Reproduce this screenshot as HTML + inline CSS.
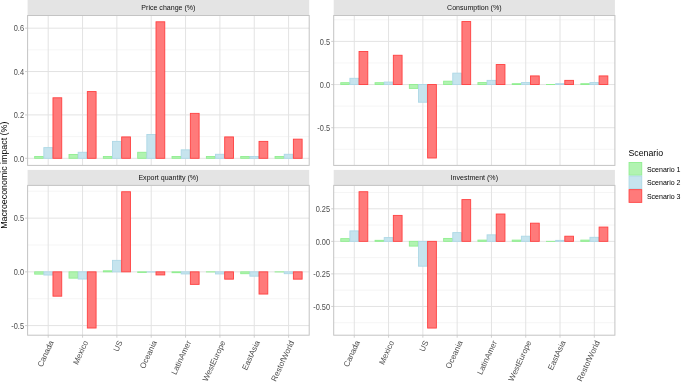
<!DOCTYPE html><html><head><meta charset="utf-8"><style>html,body{margin:0;padding:0;background:#fff;overflow:hidden}svg{display:block;will-change:transform}text{font-family:"Liberation Sans",sans-serif}</style></head><body>
<svg width="685" height="382" viewBox="0 0 685 382">
<rect width="685" height="382" fill="#fff"/>
<rect x="27.60" y="0.00" width="281.60" height="15.5" fill="#e4e4e4"/>
<text x="168.40" y="10.05" font-size="7.05" fill="#111" text-anchor="middle">Price change (%)</text>
<line x1="27.60" x2="309.20" y1="136.61" y2="136.61" stroke="#efefef" stroke-width="0.6"/>
<line x1="27.60" x2="309.20" y1="93.23" y2="93.23" stroke="#efefef" stroke-width="0.6"/>
<line x1="27.60" x2="309.20" y1="49.85" y2="49.85" stroke="#efefef" stroke-width="0.6"/>
<line x1="27.60" x2="309.20" y1="158.30" y2="158.30" stroke="#e3e3e3" stroke-width="1"/>
<line x1="27.60" x2="309.20" y1="114.92" y2="114.92" stroke="#e3e3e3" stroke-width="1"/>
<line x1="27.60" x2="309.20" y1="71.54" y2="71.54" stroke="#e3e3e3" stroke-width="1"/>
<line x1="27.60" x2="309.20" y1="28.16" y2="28.16" stroke="#e3e3e3" stroke-width="1"/>
<line x1="48.20" x2="48.20" y1="15.50" y2="165.40" stroke="#e3e3e3" stroke-width="1"/>
<line x1="82.55" x2="82.55" y1="15.50" y2="165.40" stroke="#e3e3e3" stroke-width="1"/>
<line x1="116.89" x2="116.89" y1="15.50" y2="165.40" stroke="#e3e3e3" stroke-width="1"/>
<line x1="151.23" x2="151.23" y1="15.50" y2="165.40" stroke="#e3e3e3" stroke-width="1"/>
<line x1="185.57" x2="185.57" y1="15.50" y2="165.40" stroke="#e3e3e3" stroke-width="1"/>
<line x1="219.91" x2="219.91" y1="15.50" y2="165.40" stroke="#e3e3e3" stroke-width="1"/>
<line x1="254.25" x2="254.25" y1="15.50" y2="165.40" stroke="#e3e3e3" stroke-width="1"/>
<line x1="288.60" x2="288.60" y1="15.50" y2="165.40" stroke="#e3e3e3" stroke-width="1"/>
<rect x="34.67" y="156.50" width="8.76" height="1.80" fill="#b1f3b1" stroke="#90ee90" stroke-width="0.9"/>
<rect x="43.83" y="147.61" width="8.76" height="10.69" fill="#c6e4ee" stroke="#add8e6" stroke-width="0.9"/>
<rect x="52.98" y="97.79" width="8.76" height="60.51" fill="#ff7a7a" stroke="#ff4040" stroke-width="0.9"/>
<rect x="69.01" y="154.50" width="8.76" height="3.80" fill="#b1f3b1" stroke="#90ee90" stroke-width="0.9"/>
<rect x="78.17" y="152.28" width="8.76" height="6.02" fill="#c6e4ee" stroke="#add8e6" stroke-width="0.9"/>
<rect x="87.33" y="91.57" width="8.76" height="66.73" fill="#ff7a7a" stroke="#ff4040" stroke-width="0.9"/>
<rect x="103.35" y="156.50" width="8.76" height="1.80" fill="#b1f3b1" stroke="#90ee90" stroke-width="0.9"/>
<rect x="112.51" y="141.38" width="8.76" height="16.92" fill="#c6e4ee" stroke="#add8e6" stroke-width="0.9"/>
<rect x="121.67" y="136.93" width="8.76" height="21.37" fill="#ff7a7a" stroke="#ff4040" stroke-width="0.9"/>
<rect x="137.69" y="152.28" width="8.76" height="6.02" fill="#b1f3b1" stroke="#90ee90" stroke-width="0.9"/>
<rect x="146.85" y="134.49" width="8.76" height="23.81" fill="#c6e4ee" stroke="#add8e6" stroke-width="0.9"/>
<rect x="156.01" y="21.80" width="8.76" height="136.50" fill="#ff7a7a" stroke="#ff4040" stroke-width="0.9"/>
<rect x="172.03" y="156.50" width="8.76" height="1.80" fill="#b1f3b1" stroke="#90ee90" stroke-width="0.9"/>
<rect x="181.19" y="149.83" width="8.76" height="8.47" fill="#c6e4ee" stroke="#add8e6" stroke-width="0.9"/>
<rect x="190.35" y="113.36" width="8.76" height="44.94" fill="#ff7a7a" stroke="#ff4040" stroke-width="0.9"/>
<rect x="206.38" y="156.50" width="8.76" height="1.80" fill="#b1f3b1" stroke="#90ee90" stroke-width="0.9"/>
<rect x="215.53" y="154.28" width="8.76" height="4.02" fill="#c6e4ee" stroke="#add8e6" stroke-width="0.9"/>
<rect x="224.69" y="136.93" width="8.76" height="21.37" fill="#ff7a7a" stroke="#ff4040" stroke-width="0.9"/>
<rect x="240.72" y="156.50" width="8.76" height="1.80" fill="#b1f3b1" stroke="#90ee90" stroke-width="0.9"/>
<rect x="249.87" y="156.50" width="8.76" height="1.80" fill="#c6e4ee" stroke="#add8e6" stroke-width="0.9"/>
<rect x="259.03" y="141.38" width="8.76" height="16.92" fill="#ff7a7a" stroke="#ff4040" stroke-width="0.9"/>
<rect x="275.06" y="156.50" width="8.76" height="1.80" fill="#b1f3b1" stroke="#90ee90" stroke-width="0.9"/>
<rect x="284.22" y="154.28" width="8.76" height="4.02" fill="#c6e4ee" stroke="#add8e6" stroke-width="0.9"/>
<rect x="293.37" y="139.16" width="8.76" height="19.14" fill="#ff7a7a" stroke="#ff4040" stroke-width="0.9"/>
<rect x="27.60" y="15.50" width="281.60" height="149.90" fill="none" stroke="#c4c4c4" stroke-width="1"/>
<line x1="25.10" x2="27.60" y1="158.30" y2="158.30" stroke="#c4c4c4" stroke-width="0.8"/>
<text transform="translate(24.00,161.50) scale(1,1.15)" font-size="7.4" fill="#4d4d4d" text-anchor="end">0.0</text>
<line x1="25.10" x2="27.60" y1="114.92" y2="114.92" stroke="#c4c4c4" stroke-width="0.8"/>
<text transform="translate(24.00,118.12) scale(1,1.15)" font-size="7.4" fill="#4d4d4d" text-anchor="end">0.2</text>
<line x1="25.10" x2="27.60" y1="71.54" y2="71.54" stroke="#c4c4c4" stroke-width="0.8"/>
<text transform="translate(24.00,74.74) scale(1,1.15)" font-size="7.4" fill="#4d4d4d" text-anchor="end">0.4</text>
<line x1="25.10" x2="27.60" y1="28.16" y2="28.16" stroke="#c4c4c4" stroke-width="0.8"/>
<text transform="translate(24.00,31.36) scale(1,1.15)" font-size="7.4" fill="#4d4d4d" text-anchor="end">0.6</text>
<rect x="333.70" y="0.00" width="281.20" height="15.5" fill="#e4e4e4"/>
<text x="474.30" y="10.05" font-size="7.05" fill="#111" text-anchor="middle">Consumption (%)</text>
<line x1="333.70" x2="614.90" y1="149.30" y2="149.30" stroke="#efefef" stroke-width="0.6"/>
<line x1="333.70" x2="614.90" y1="106.13" y2="106.13" stroke="#efefef" stroke-width="0.6"/>
<line x1="333.70" x2="614.90" y1="62.97" y2="62.97" stroke="#efefef" stroke-width="0.6"/>
<line x1="333.70" x2="614.90" y1="19.80" y2="19.80" stroke="#efefef" stroke-width="0.6"/>
<line x1="333.70" x2="614.90" y1="127.72" y2="127.72" stroke="#e3e3e3" stroke-width="1"/>
<line x1="333.70" x2="614.90" y1="84.55" y2="84.55" stroke="#e3e3e3" stroke-width="1"/>
<line x1="333.70" x2="614.90" y1="41.38" y2="41.38" stroke="#e3e3e3" stroke-width="1"/>
<line x1="354.28" x2="354.28" y1="15.50" y2="165.40" stroke="#e3e3e3" stroke-width="1"/>
<line x1="388.57" x2="388.57" y1="15.50" y2="165.40" stroke="#e3e3e3" stroke-width="1"/>
<line x1="422.86" x2="422.86" y1="15.50" y2="165.40" stroke="#e3e3e3" stroke-width="1"/>
<line x1="457.15" x2="457.15" y1="15.50" y2="165.40" stroke="#e3e3e3" stroke-width="1"/>
<line x1="491.45" x2="491.45" y1="15.50" y2="165.40" stroke="#e3e3e3" stroke-width="1"/>
<line x1="525.74" x2="525.74" y1="15.50" y2="165.40" stroke="#e3e3e3" stroke-width="1"/>
<line x1="560.03" x2="560.03" y1="15.50" y2="165.40" stroke="#e3e3e3" stroke-width="1"/>
<line x1="594.32" x2="594.32" y1="15.50" y2="165.40" stroke="#e3e3e3" stroke-width="1"/>
<rect x="340.76" y="82.70" width="8.74" height="1.85" fill="#b1f3b1" stroke="#90ee90" stroke-width="0.9"/>
<rect x="349.90" y="78.30" width="8.74" height="6.25" fill="#c6e4ee" stroke="#add8e6" stroke-width="0.9"/>
<rect x="359.05" y="51.49" width="8.74" height="33.06" fill="#ff7a7a" stroke="#ff4040" stroke-width="0.9"/>
<rect x="375.05" y="82.70" width="8.74" height="1.85" fill="#b1f3b1" stroke="#90ee90" stroke-width="0.9"/>
<rect x="384.20" y="82.07" width="8.74" height="2.48" fill="#c6e4ee" stroke="#add8e6" stroke-width="0.9"/>
<rect x="393.34" y="55.26" width="8.74" height="29.29" fill="#ff7a7a" stroke="#ff4040" stroke-width="0.9"/>
<rect x="409.34" y="84.55" width="8.74" height="3.85" fill="#b1f3b1" stroke="#90ee90" stroke-width="0.9"/>
<rect x="418.49" y="84.55" width="8.74" height="17.67" fill="#c6e4ee" stroke="#add8e6" stroke-width="0.9"/>
<rect x="427.63" y="84.55" width="8.74" height="73.46" fill="#ff7a7a" stroke="#ff4040" stroke-width="0.9"/>
<rect x="443.64" y="81.19" width="8.74" height="3.36" fill="#b1f3b1" stroke="#90ee90" stroke-width="0.9"/>
<rect x="452.78" y="73.15" width="8.74" height="11.40" fill="#c6e4ee" stroke="#add8e6" stroke-width="0.9"/>
<rect x="461.93" y="21.55" width="8.74" height="63.00" fill="#ff7a7a" stroke="#ff4040" stroke-width="0.9"/>
<rect x="477.93" y="82.58" width="8.74" height="1.97" fill="#b1f3b1" stroke="#90ee90" stroke-width="0.9"/>
<rect x="487.07" y="80.36" width="8.74" height="4.19" fill="#c6e4ee" stroke="#add8e6" stroke-width="0.9"/>
<rect x="496.22" y="64.55" width="8.74" height="20.00" fill="#ff7a7a" stroke="#ff4040" stroke-width="0.9"/>
<rect x="512.22" y="83.69" width="8.74" height="0.86" fill="#b1f3b1" stroke="#90ee90" stroke-width="0.9"/>
<rect x="521.37" y="82.58" width="8.74" height="1.97" fill="#c6e4ee" stroke="#add8e6" stroke-width="0.9"/>
<rect x="530.51" y="75.92" width="8.74" height="8.63" fill="#ff7a7a" stroke="#ff4040" stroke-width="0.9"/>
<rect x="546.51" y="84.52" width="8.74" height="0.05" fill="#b1f3b1" stroke="#90ee90" stroke-width="0.9"/>
<rect x="555.66" y="83.69" width="8.74" height="0.86" fill="#c6e4ee" stroke="#add8e6" stroke-width="0.9"/>
<rect x="564.80" y="80.36" width="8.74" height="4.19" fill="#ff7a7a" stroke="#ff4040" stroke-width="0.9"/>
<rect x="580.81" y="83.69" width="8.74" height="0.86" fill="#b1f3b1" stroke="#90ee90" stroke-width="0.9"/>
<rect x="589.95" y="82.58" width="8.74" height="1.97" fill="#c6e4ee" stroke="#add8e6" stroke-width="0.9"/>
<rect x="599.10" y="75.92" width="8.74" height="8.63" fill="#ff7a7a" stroke="#ff4040" stroke-width="0.9"/>
<rect x="333.70" y="15.50" width="281.20" height="149.90" fill="none" stroke="#c4c4c4" stroke-width="1"/>
<line x1="331.20" x2="333.70" y1="127.72" y2="127.72" stroke="#c4c4c4" stroke-width="0.8"/>
<text transform="translate(330.10,130.91) scale(1,1.15)" font-size="7.4" fill="#4d4d4d" text-anchor="end">-0.5</text>
<line x1="331.20" x2="333.70" y1="84.55" y2="84.55" stroke="#c4c4c4" stroke-width="0.8"/>
<text transform="translate(330.10,87.75) scale(1,1.15)" font-size="7.4" fill="#4d4d4d" text-anchor="end">0.0</text>
<line x1="331.20" x2="333.70" y1="41.38" y2="41.38" stroke="#c4c4c4" stroke-width="0.8"/>
<text transform="translate(330.10,44.59) scale(1,1.15)" font-size="7.4" fill="#4d4d4d" text-anchor="end">0.5</text>
<rect x="27.60" y="169.90" width="281.60" height="15.5" fill="#e4e4e4"/>
<text x="168.40" y="179.95" font-size="7.05" fill="#111" text-anchor="middle">Export quantity (%)</text>
<line x1="27.60" x2="309.20" y1="298.71" y2="298.71" stroke="#efefef" stroke-width="0.6"/>
<line x1="27.60" x2="309.20" y1="244.99" y2="244.99" stroke="#efefef" stroke-width="0.6"/>
<line x1="27.60" x2="309.20" y1="191.26" y2="191.26" stroke="#efefef" stroke-width="0.6"/>
<line x1="27.60" x2="309.20" y1="325.58" y2="325.58" stroke="#e3e3e3" stroke-width="1"/>
<line x1="27.60" x2="309.20" y1="271.85" y2="271.85" stroke="#e3e3e3" stroke-width="1"/>
<line x1="27.60" x2="309.20" y1="218.13" y2="218.13" stroke="#e3e3e3" stroke-width="1"/>
<line x1="48.20" x2="48.20" y1="185.40" y2="335.20" stroke="#e3e3e3" stroke-width="1"/>
<line x1="82.55" x2="82.55" y1="185.40" y2="335.20" stroke="#e3e3e3" stroke-width="1"/>
<line x1="116.89" x2="116.89" y1="185.40" y2="335.20" stroke="#e3e3e3" stroke-width="1"/>
<line x1="151.23" x2="151.23" y1="185.40" y2="335.20" stroke="#e3e3e3" stroke-width="1"/>
<line x1="185.57" x2="185.57" y1="185.40" y2="335.20" stroke="#e3e3e3" stroke-width="1"/>
<line x1="219.91" x2="219.91" y1="185.40" y2="335.20" stroke="#e3e3e3" stroke-width="1"/>
<line x1="254.25" x2="254.25" y1="185.40" y2="335.20" stroke="#e3e3e3" stroke-width="1"/>
<line x1="288.60" x2="288.60" y1="185.40" y2="335.20" stroke="#e3e3e3" stroke-width="1"/>
<rect x="34.67" y="271.85" width="8.76" height="2.29" fill="#b1f3b1" stroke="#90ee90" stroke-width="0.9"/>
<rect x="43.83" y="271.85" width="8.76" height="3.18" fill="#c6e4ee" stroke="#add8e6" stroke-width="0.9"/>
<rect x="52.98" y="271.85" width="8.76" height="24.33" fill="#ff7a7a" stroke="#ff4040" stroke-width="0.9"/>
<rect x="69.01" y="271.85" width="8.76" height="6.30" fill="#b1f3b1" stroke="#90ee90" stroke-width="0.9"/>
<rect x="78.17" y="271.85" width="8.76" height="7.19" fill="#c6e4ee" stroke="#add8e6" stroke-width="0.9"/>
<rect x="87.33" y="271.85" width="8.76" height="56.17" fill="#ff7a7a" stroke="#ff4040" stroke-width="0.9"/>
<rect x="103.35" y="270.81" width="8.76" height="1.04" fill="#b1f3b1" stroke="#90ee90" stroke-width="0.9"/>
<rect x="112.51" y="260.35" width="8.76" height="11.50" fill="#c6e4ee" stroke="#add8e6" stroke-width="0.9"/>
<rect x="121.67" y="191.75" width="8.76" height="80.10" fill="#ff7a7a" stroke="#ff4040" stroke-width="0.9"/>
<rect x="137.69" y="271.85" width="8.76" height="0.61" fill="#b1f3b1" stroke="#90ee90" stroke-width="0.9"/>
<rect x="146.85" y="271.85" width="8.76" height="0.19" fill="#c6e4ee" stroke="#add8e6" stroke-width="0.9"/>
<rect x="156.01" y="271.85" width="8.76" height="3.09" fill="#ff7a7a" stroke="#ff4040" stroke-width="0.9"/>
<rect x="172.03" y="271.85" width="8.76" height="0.85" fill="#b1f3b1" stroke="#90ee90" stroke-width="0.9"/>
<rect x="181.19" y="271.85" width="8.76" height="2.10" fill="#c6e4ee" stroke="#add8e6" stroke-width="0.9"/>
<rect x="190.35" y="271.85" width="8.76" height="12.52" fill="#ff7a7a" stroke="#ff4040" stroke-width="0.9"/>
<rect x="206.38" y="271.85" width="8.76" height="0.11" fill="#b1f3b1" stroke="#90ee90" stroke-width="0.9"/>
<rect x="215.53" y="271.85" width="8.76" height="2.10" fill="#c6e4ee" stroke="#add8e6" stroke-width="0.9"/>
<rect x="224.69" y="271.85" width="8.76" height="7.31" fill="#ff7a7a" stroke="#ff4040" stroke-width="0.9"/>
<rect x="240.72" y="271.85" width="8.76" height="1.85" fill="#b1f3b1" stroke="#90ee90" stroke-width="0.9"/>
<rect x="249.87" y="271.85" width="8.76" height="4.33" fill="#c6e4ee" stroke="#add8e6" stroke-width="0.9"/>
<rect x="259.03" y="271.85" width="8.76" height="22.20" fill="#ff7a7a" stroke="#ff4040" stroke-width="0.9"/>
<rect x="275.06" y="271.85" width="8.76" height="0.11" fill="#b1f3b1" stroke="#90ee90" stroke-width="0.9"/>
<rect x="284.22" y="271.85" width="8.76" height="1.85" fill="#c6e4ee" stroke="#add8e6" stroke-width="0.9"/>
<rect x="293.37" y="271.85" width="8.76" height="7.31" fill="#ff7a7a" stroke="#ff4040" stroke-width="0.9"/>
<rect x="27.60" y="185.40" width="281.60" height="149.80" fill="none" stroke="#c4c4c4" stroke-width="1"/>
<line x1="25.10" x2="27.60" y1="325.58" y2="325.58" stroke="#c4c4c4" stroke-width="0.8"/>
<text transform="translate(24.00,328.78) scale(1,1.15)" font-size="7.4" fill="#4d4d4d" text-anchor="end">-0.5</text>
<line x1="25.10" x2="27.60" y1="271.85" y2="271.85" stroke="#c4c4c4" stroke-width="0.8"/>
<text transform="translate(24.00,275.05) scale(1,1.15)" font-size="7.4" fill="#4d4d4d" text-anchor="end">0.0</text>
<line x1="25.10" x2="27.60" y1="218.13" y2="218.13" stroke="#c4c4c4" stroke-width="0.8"/>
<text transform="translate(24.00,221.33) scale(1,1.15)" font-size="7.4" fill="#4d4d4d" text-anchor="end">0.5</text>
<line x1="48.20" x2="48.20" y1="335.20" y2="337.70" stroke="#c4c4c4" stroke-width="0.8"/>
<text transform="translate(54.00,342.20) rotate(-65)" font-size="8" fill="#4d4d4d" text-anchor="end">Canada</text>
<line x1="82.55" x2="82.55" y1="335.20" y2="337.70" stroke="#c4c4c4" stroke-width="0.8"/>
<text transform="translate(88.35,342.20) rotate(-65)" font-size="8" fill="#4d4d4d" text-anchor="end">Mexico</text>
<line x1="116.89" x2="116.89" y1="335.20" y2="337.70" stroke="#c4c4c4" stroke-width="0.8"/>
<text transform="translate(122.69,342.20) rotate(-65)" font-size="8" fill="#4d4d4d" text-anchor="end">US</text>
<line x1="151.23" x2="151.23" y1="335.20" y2="337.70" stroke="#c4c4c4" stroke-width="0.8"/>
<text transform="translate(157.03,342.20) rotate(-65)" font-size="8" fill="#4d4d4d" text-anchor="end">Oceania</text>
<line x1="185.57" x2="185.57" y1="335.20" y2="337.70" stroke="#c4c4c4" stroke-width="0.8"/>
<text transform="translate(191.37,342.20) rotate(-65)" font-size="8" fill="#4d4d4d" text-anchor="end">LatinAmer</text>
<line x1="219.91" x2="219.91" y1="335.20" y2="337.70" stroke="#c4c4c4" stroke-width="0.8"/>
<text transform="translate(225.71,342.20) rotate(-65)" font-size="8" fill="#4d4d4d" text-anchor="end">WestEurope</text>
<line x1="254.25" x2="254.25" y1="335.20" y2="337.70" stroke="#c4c4c4" stroke-width="0.8"/>
<text transform="translate(260.05,342.20) rotate(-65)" font-size="8" fill="#4d4d4d" text-anchor="end">EastAsia</text>
<line x1="288.60" x2="288.60" y1="335.20" y2="337.70" stroke="#c4c4c4" stroke-width="0.8"/>
<text transform="translate(294.40,342.20) rotate(-65)" font-size="8" fill="#4d4d4d" text-anchor="end">RestofWorld</text>
<rect x="333.70" y="169.90" width="281.20" height="15.5" fill="#e4e4e4"/>
<text x="474.30" y="179.95" font-size="7.05" fill="#111" text-anchor="middle">Investment (%)</text>
<line x1="333.70" x2="614.90" y1="322.71" y2="322.71" stroke="#efefef" stroke-width="0.6"/>
<line x1="333.70" x2="614.90" y1="290.17" y2="290.17" stroke="#efefef" stroke-width="0.6"/>
<line x1="333.70" x2="614.90" y1="257.62" y2="257.62" stroke="#efefef" stroke-width="0.6"/>
<line x1="333.70" x2="614.90" y1="225.08" y2="225.08" stroke="#efefef" stroke-width="0.6"/>
<line x1="333.70" x2="614.90" y1="192.53" y2="192.53" stroke="#efefef" stroke-width="0.6"/>
<line x1="333.70" x2="614.90" y1="306.44" y2="306.44" stroke="#e3e3e3" stroke-width="1"/>
<line x1="333.70" x2="614.90" y1="273.89" y2="273.89" stroke="#e3e3e3" stroke-width="1"/>
<line x1="333.70" x2="614.90" y1="241.35" y2="241.35" stroke="#e3e3e3" stroke-width="1"/>
<line x1="333.70" x2="614.90" y1="208.81" y2="208.81" stroke="#e3e3e3" stroke-width="1"/>
<line x1="354.28" x2="354.28" y1="185.40" y2="335.20" stroke="#e3e3e3" stroke-width="1"/>
<line x1="388.57" x2="388.57" y1="185.40" y2="335.20" stroke="#e3e3e3" stroke-width="1"/>
<line x1="422.86" x2="422.86" y1="185.40" y2="335.20" stroke="#e3e3e3" stroke-width="1"/>
<line x1="457.15" x2="457.15" y1="185.40" y2="335.20" stroke="#e3e3e3" stroke-width="1"/>
<line x1="491.45" x2="491.45" y1="185.40" y2="335.20" stroke="#e3e3e3" stroke-width="1"/>
<line x1="525.74" x2="525.74" y1="185.40" y2="335.20" stroke="#e3e3e3" stroke-width="1"/>
<line x1="560.03" x2="560.03" y1="185.40" y2="335.20" stroke="#e3e3e3" stroke-width="1"/>
<line x1="594.32" x2="594.32" y1="185.40" y2="335.20" stroke="#e3e3e3" stroke-width="1"/>
<rect x="340.76" y="238.64" width="8.74" height="2.71" fill="#b1f3b1" stroke="#90ee90" stroke-width="0.9"/>
<rect x="349.90" y="230.90" width="8.74" height="10.45" fill="#c6e4ee" stroke="#add8e6" stroke-width="0.9"/>
<rect x="359.05" y="191.73" width="8.74" height="49.62" fill="#ff7a7a" stroke="#ff4040" stroke-width="0.9"/>
<rect x="375.05" y="240.32" width="8.74" height="1.03" fill="#b1f3b1" stroke="#90ee90" stroke-width="0.9"/>
<rect x="384.20" y="237.60" width="8.74" height="3.75" fill="#c6e4ee" stroke="#add8e6" stroke-width="0.9"/>
<rect x="393.34" y="215.40" width="8.74" height="25.95" fill="#ff7a7a" stroke="#ff4040" stroke-width="0.9"/>
<rect x="409.34" y="241.35" width="8.74" height="4.75" fill="#b1f3b1" stroke="#90ee90" stroke-width="0.9"/>
<rect x="418.49" y="241.35" width="8.74" height="24.83" fill="#c6e4ee" stroke="#add8e6" stroke-width="0.9"/>
<rect x="427.63" y="241.35" width="8.74" height="86.71" fill="#ff7a7a" stroke="#ff4040" stroke-width="0.9"/>
<rect x="443.64" y="238.43" width="8.74" height="2.92" fill="#b1f3b1" stroke="#90ee90" stroke-width="0.9"/>
<rect x="452.78" y="232.61" width="8.74" height="8.74" fill="#c6e4ee" stroke="#add8e6" stroke-width="0.9"/>
<rect x="461.93" y="199.60" width="8.74" height="41.75" fill="#ff7a7a" stroke="#ff4040" stroke-width="0.9"/>
<rect x="477.93" y="240.10" width="8.74" height="1.25" fill="#b1f3b1" stroke="#90ee90" stroke-width="0.9"/>
<rect x="487.07" y="234.83" width="8.74" height="6.52" fill="#c6e4ee" stroke="#add8e6" stroke-width="0.9"/>
<rect x="496.22" y="214.02" width="8.74" height="27.33" fill="#ff7a7a" stroke="#ff4040" stroke-width="0.9"/>
<rect x="512.22" y="240.10" width="8.74" height="1.25" fill="#b1f3b1" stroke="#90ee90" stroke-width="0.9"/>
<rect x="521.37" y="236.21" width="8.74" height="5.14" fill="#c6e4ee" stroke="#add8e6" stroke-width="0.9"/>
<rect x="530.51" y="223.18" width="8.74" height="18.17" fill="#ff7a7a" stroke="#ff4040" stroke-width="0.9"/>
<rect x="546.51" y="241.34" width="8.74" height="0.05" fill="#b1f3b1" stroke="#90ee90" stroke-width="0.9"/>
<rect x="555.66" y="240.37" width="8.74" height="0.98" fill="#c6e4ee" stroke="#add8e6" stroke-width="0.9"/>
<rect x="564.80" y="236.21" width="8.74" height="5.14" fill="#ff7a7a" stroke="#ff4040" stroke-width="0.9"/>
<rect x="580.81" y="240.10" width="8.74" height="1.25" fill="#b1f3b1" stroke="#90ee90" stroke-width="0.9"/>
<rect x="589.95" y="237.32" width="8.74" height="4.03" fill="#c6e4ee" stroke="#add8e6" stroke-width="0.9"/>
<rect x="599.10" y="227.06" width="8.74" height="14.29" fill="#ff7a7a" stroke="#ff4040" stroke-width="0.9"/>
<rect x="333.70" y="185.40" width="281.20" height="149.80" fill="none" stroke="#c4c4c4" stroke-width="1"/>
<line x1="331.20" x2="333.70" y1="306.44" y2="306.44" stroke="#c4c4c4" stroke-width="0.8"/>
<text transform="translate(330.10,309.64) scale(1,1.15)" font-size="7.4" fill="#4d4d4d" text-anchor="end">-0.50</text>
<line x1="331.20" x2="333.70" y1="273.89" y2="273.89" stroke="#c4c4c4" stroke-width="0.8"/>
<text transform="translate(330.10,277.09) scale(1,1.15)" font-size="7.4" fill="#4d4d4d" text-anchor="end">-0.25</text>
<line x1="331.20" x2="333.70" y1="241.35" y2="241.35" stroke="#c4c4c4" stroke-width="0.8"/>
<text transform="translate(330.10,244.55) scale(1,1.15)" font-size="7.4" fill="#4d4d4d" text-anchor="end">0.00</text>
<line x1="331.20" x2="333.70" y1="208.81" y2="208.81" stroke="#c4c4c4" stroke-width="0.8"/>
<text transform="translate(330.10,212.00) scale(1,1.15)" font-size="7.4" fill="#4d4d4d" text-anchor="end">0.25</text>
<line x1="354.28" x2="354.28" y1="335.20" y2="337.70" stroke="#c4c4c4" stroke-width="0.8"/>
<text transform="translate(360.08,342.20) rotate(-65)" font-size="8" fill="#4d4d4d" text-anchor="end">Canada</text>
<line x1="388.57" x2="388.57" y1="335.20" y2="337.70" stroke="#c4c4c4" stroke-width="0.8"/>
<text transform="translate(394.37,342.20) rotate(-65)" font-size="8" fill="#4d4d4d" text-anchor="end">Mexico</text>
<line x1="422.86" x2="422.86" y1="335.20" y2="337.70" stroke="#c4c4c4" stroke-width="0.8"/>
<text transform="translate(428.66,342.20) rotate(-65)" font-size="8" fill="#4d4d4d" text-anchor="end">US</text>
<line x1="457.15" x2="457.15" y1="335.20" y2="337.70" stroke="#c4c4c4" stroke-width="0.8"/>
<text transform="translate(462.95,342.20) rotate(-65)" font-size="8" fill="#4d4d4d" text-anchor="end">Oceania</text>
<line x1="491.45" x2="491.45" y1="335.20" y2="337.70" stroke="#c4c4c4" stroke-width="0.8"/>
<text transform="translate(497.25,342.20) rotate(-65)" font-size="8" fill="#4d4d4d" text-anchor="end">LatinAmer</text>
<line x1="525.74" x2="525.74" y1="335.20" y2="337.70" stroke="#c4c4c4" stroke-width="0.8"/>
<text transform="translate(531.54,342.20) rotate(-65)" font-size="8" fill="#4d4d4d" text-anchor="end">WestEurope</text>
<line x1="560.03" x2="560.03" y1="335.20" y2="337.70" stroke="#c4c4c4" stroke-width="0.8"/>
<text transform="translate(565.83,342.20) rotate(-65)" font-size="8" fill="#4d4d4d" text-anchor="end">EastAsia</text>
<line x1="594.32" x2="594.32" y1="335.20" y2="337.70" stroke="#c4c4c4" stroke-width="0.8"/>
<text transform="translate(600.12,342.20) rotate(-65)" font-size="8" fill="#4d4d4d" text-anchor="end">RestofWorld</text>
<text transform="translate(6.5,175.2) rotate(-90)" font-size="8.85" fill="#000" text-anchor="middle">Macroeconomic impact (%)</text>
<text transform="translate(628.4,155.9) scale(1,1.12)" font-size="8.8" fill="#000">Scenario</text>
<rect x="629.05" y="162.45" width="12.70" height="12.70" fill="#b1f3b1" stroke="#90ee90" stroke-width="0.9"/>
<text transform="translate(646.9,171.80) scale(1,1.12)" font-size="7.05" fill="#000">Scenario 1</text>
<rect x="629.05" y="176.05" width="12.70" height="12.70" fill="#c6e4ee" stroke="#add8e6" stroke-width="0.9"/>
<text transform="translate(646.9,185.40) scale(1,1.12)" font-size="7.05" fill="#000">Scenario 2</text>
<rect x="629.05" y="189.65" width="12.70" height="12.70" fill="#ff7a7a" stroke="#ff4040" stroke-width="0.9"/>
<text transform="translate(646.9,199.00) scale(1,1.12)" font-size="7.05" fill="#000">Scenario 3</text>
</svg></body></html>
